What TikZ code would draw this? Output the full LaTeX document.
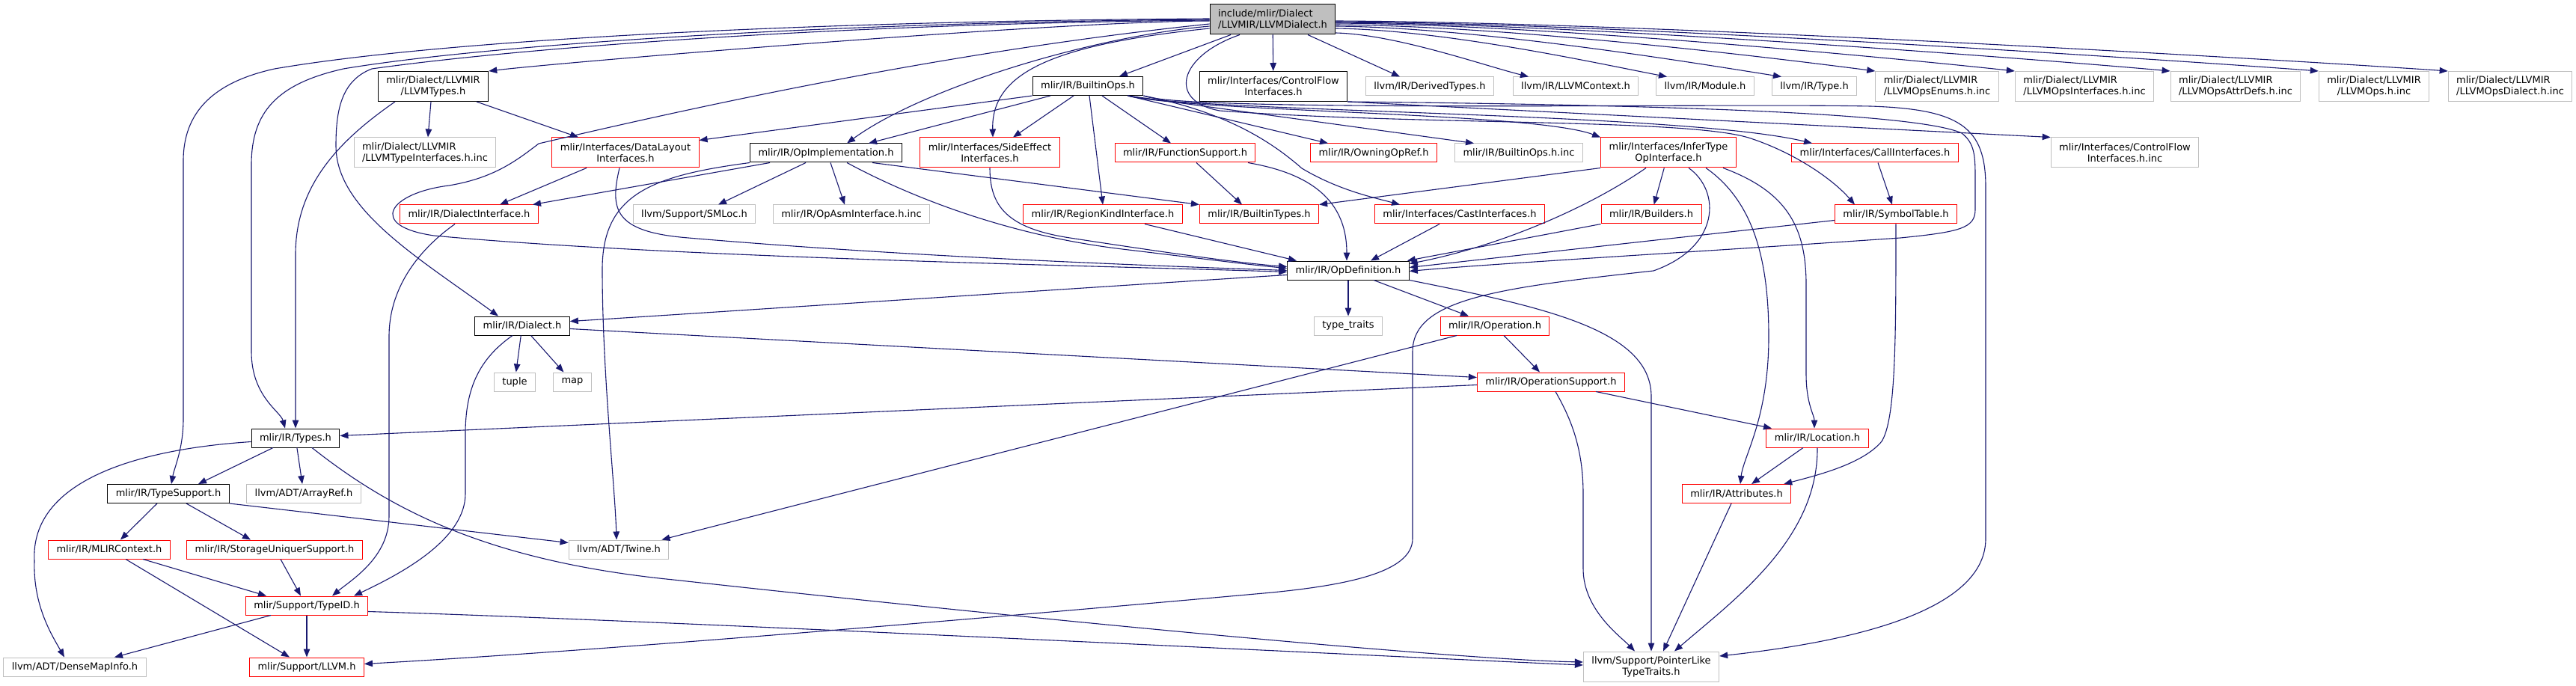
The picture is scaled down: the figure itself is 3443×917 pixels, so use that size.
\documentclass[tikz,border=0pt]{standalone}
\usepackage{fontspec}
\setmainfont{DejaVu Sans}
\usetikzlibrary{arrows.meta}
\definecolor{edgeblue}{RGB}{25,25,112}
\definecolor{gray75}{RGB}{191,191,191}

\begin{document}
\begin{tikzpicture}[x=1pt, y=-1pt, font=\fontsize{13}{15}\selectfont,
  hdr/.style={rectangle, draw, fill=white, line width=1pt,
    inner xsep=11pt, inner ysep=3pt, minimum height=25pt},
  filebox/.style={hdr, draw=black},
  truncbox/.style={hdr, draw=red},
  extbox/.style={hdr, draw=gray75},
  rootbox/.style={hdr, draw=black, fill=gray75},
  twoline/.style={minimum height=40pt},
  dep/.style={draw=edgeblue, line width=1.1pt,
    -{Triangle[length=11pt, width=8.5pt]}}]
  % Canvas
  \fill[white] (0,0) rectangle (3443,917);
  \useasboundingbox (0,0) rectangle (3443,917);

  % Root file
  \node[rootbox, twoline, align=left] (root) at (1701,26) {include/mlir/Dialect\\/LLVMIR/LLVMDialect.h};
  % First row
  \node[filebox, twoline, align=center] (llvmTypes) at (579,115.5) {mlir/Dialect/LLVMIR\\/LLVMTypes.h};
  \node[filebox] (builtinOps) at (1454,115) {mlir/IR/BuiltinOps.h};
  \node[filebox, twoline, align=center] (cfIface) at (1702,115.5) {mlir/Interfaces/ControlFlow\\Interfaces.h};
  \node[extbox] (derivedTypes) at (1911,115.5) {llvm/IR/DerivedTypes.h};
  \node[extbox] (llvmContext) at (2106,115.5) {llvm/IR/LLVMContext.h};
  \node[extbox] (irModule) at (2279,115.5) {llvm/IR/Module.h};
  \node[extbox] (irType) at (2425,115.5) {llvm/IR/Type.h};
  \node[extbox, twoline, align=left] (opsEnums) at (2589,115.5) {mlir/Dialect/LLVMIR\\/LLVMOpsEnums.h.inc};
  \node[extbox, twoline, align=left] (opsIfaces) at (2786,115.5) {mlir/Dialect/LLVMIR\\/LLVMOpsInterfaces.h.inc};
  \node[extbox, twoline, align=left] (opsAttrDefs) at (2988,115.5) {mlir/Dialect/LLVMIR\\/LLVMOpsAttrDefs.h.inc};
  \node[extbox, twoline, align=center] (opsInc) at (3173,115.5) {mlir/Dialect/LLVMIR\\/LLVMOps.h.inc};
  \node[extbox, twoline, align=left] (opsDialect) at (3355,115.5) {mlir/Dialect/LLVMIR\\/LLVMOpsDialect.h.inc};
  % Second row
  \node[extbox, twoline, align=left] (typeIfacesInc) at (568,204) {mlir/Dialect/LLVMIR\\/LLVMTypeInterfaces.h.inc};
  \node[truncbox, twoline, align=center] (dataLayout) at (836,204) {mlir/Interfaces/DataLayout\\Interfaces.h};
  \node[filebox] (opImpl) at (1104,204.5) {mlir/IR/OpImplementation.h};
  \node[truncbox, twoline, align=center] (sideEffect) at (1323,204) {mlir/Interfaces/SideEffect\\Interfaces.h};
  \node[truncbox] (funcSupport) at (1584,204.5) {mlir/IR/FunctionSupport.h};
  \node[truncbox] (owningOpRef) at (1836,204.5) {mlir/IR/OwningOpRef.h};
  \node[extbox] (builtinOpsInc) at (2030,204.5) {mlir/IR/BuiltinOps.h.inc};
  \node[truncbox, twoline, align=center] (inferType) at (2230,204) {mlir/Interfaces/InferType\\OpInterface.h};
  \node[truncbox] (callIface) at (2506,204.5) {mlir/Interfaces/CallInterfaces.h};
  \node[extbox, twoline, align=center] (cfIfaceInc) at (2840,204) {mlir/Interfaces/ControlFlow\\Interfaces.h.inc};
  % Third row
  \node[truncbox] (dialectIface) at (627,286.5) {mlir/IR/DialectInterface.h};
  \node[extbox] (smLoc) at (928,286.5) {llvm/Support/SMLoc.h};
  \node[extbox] (opAsmInc) at (1138,286.5) {mlir/IR/OpAsmInterface.h.inc};
  \node[truncbox] (regionKind) at (1474,286.5) {mlir/IR/RegionKindInterface.h};
  \node[truncbox] (builtinTypes) at (1683,286.5) {mlir/IR/BuiltinTypes.h};
  \node[truncbox] (castIface) at (1951,286.5) {mlir/Interfaces/CastInterfaces.h};
  \node[truncbox] (builders) at (2207,286.5) {mlir/IR/Builders.h};
  \node[truncbox] (symbolTable) at (2534,286.5) {mlir/IR/SymbolTable.h};
  % Lower rows
  \node[filebox] (opDef) at (1802,361.5) {mlir/IR/OpDefinition.h};
  \node[filebox] (dialect) at (698,435.5) {mlir/IR/Dialect.h};
  \node[extbox] (typeTraits) at (1802,435.5) {type\_traits};
  \node[truncbox] (operation) at (1998,435.5) {mlir/IR/Operation.h};
  \node[extbox] (tuple) at (688,510.5) {tuple};
  \node[extbox] (stdMap) at (765,510.5) {map};
  \node[truncbox] (opSupport) at (2073,510.5) {mlir/IR/OperationSupport.h};
  \node[filebox] (types) at (395,585.5) {mlir/IR/Types.h};
  \node[truncbox] (location) at (2429,585.5) {mlir/IR/Location.h};
  \node[filebox] (typeSupport) at (225,660) {mlir/IR/TypeSupport.h};
  \node[extbox] (arrayRef) at (406,660) {llvm/ADT/ArrayRef.h};
  \node[truncbox] (attributes) at (2321,660) {mlir/IR/Attributes.h};
  \node[truncbox] (mlirContext) at (146,734.5) {mlir/IR/MLIRContext.h};
  \node[truncbox] (storageUniquer) at (367,734.5) {mlir/IR/StorageUniquerSupport.h};
  \node[extbox] (twine) at (827,734.5) {llvm/ADT/Twine.h};
  \node[truncbox] (typeId) at (410,809.5) {mlir/Support/TypeID.h};
  \node[extbox] (denseMapInfo) at (100,891.5) {llvm/ADT/DenseMapInfo.h};
  \node[truncbox] (llvmH) at (410,891.5) {mlir/Support/LLVM.h};
  \node[extbox, twoline, align=center] (pointerLike) at (2207,891) {llvm/Support/PointerLike\\TypeTraits.h};

  % Root: first row
  \draw[dep] ([yshift=-2pt]root.west) .. controls +(-200,0) and +(100,-12) .. (llvmTypes.north east);
  \draw[dep] ([xshift=-56pt]root.south) -- ([xshift=42pt]builtinOps.north);
  \draw[dep] (root) -- (cfIface);
  \draw[dep] ([xshift=47pt]root.south) -- ([xshift=-40pt]derivedTypes.north);
  \draw[dep] ([yshift=-18pt]root.east) .. controls +(80,2) and +(-60,-15) .. ([xshift=-63pt]llvmContext.north);
  \draw[dep] ([yshift=-12pt]root.east) .. controls +(150,2) and +(-80,-15) .. ([xshift=-51pt]irModule.north);
  \draw[dep] ([yshift=-9pt]root.east) .. controls +(200,2) and +(-90,-14) .. ([xshift=-44pt]irType.north);
  \draw[dep] ([yshift=-7pt]root.east) .. controls +(250,2) and +(-100,-13) .. (opsEnums.north west);
  \draw[dep] ([yshift=-5pt]root.east) .. controls +(300,2) and +(-110,-12) .. (opsIfaces.north west);
  \draw[dep] ([yshift=-4pt]root.east) .. controls +(350,2) and +(-120,-11) .. (opsAttrDefs.north west);
  \draw[dep] ([yshift=-3pt]root.east) .. controls +(400,2) and +(-130,-10) .. (opsInc.north west);
  \draw[dep] ([yshift=-2pt]root.east) .. controls +(450,2) and +(-140,-10) .. (opsDialect.north west);
  % Root: long routes to the left
  \draw[dep] ([yshift=1pt]root.west) .. controls (1100,28) and (600,52) .. (367,92)
    .. controls (285,110) and (245,150) .. (245,215) -- (245,560)
    .. controls (245,600) and (233,625) .. ([xshift=4pt]typeSupport.north);
  \draw[dep] (root.west) .. controls (1100,30) and (650,60) .. (459,92)
    .. controls (370,112) and (336,150) .. (336,220) -- (336,470)
    .. controls (336,530) and (375,550) .. ([xshift=-14pt]types.north);
  \draw[dep] ([yshift=-1pt]root.west) .. controls (1100,32) and (680,66) .. (497,92)
    .. controls (455,108) and (449,150) .. (449,195)
    .. controls (449,280) and (560,345) .. ([xshift=-32pt]dialect.north);
  \draw[dep] ([yshift=-6pt]root.west) .. controls (1250,70) and (900,150) .. (720,192)
    .. controls (690,215) and (660,238) .. (600,248)
    .. controls (520,258) and (490,302) .. (580,315)
    .. controls (900,345) and (1500,356) .. ([yshift=-2pt]opDef.west);
  \draw[dep] ([yshift=-9pt]root.west) .. controls (1450,50) and (1230,120) .. ([xshift=28pt]opImpl.north);
  \draw[dep] ([yshift=-12pt]root.west) .. controls (1400,60) and (1325,100) .. ([xshift=4pt]sideEffect.north);
  \draw[dep] ([xshift=-44pt]root.south) .. controls (1575,75) and (1560,135) .. (1630,148)
    .. controls (1900,168) and (2260,158) .. (2340,185)
    .. controls (2400,205) and (2450,240) .. ([xshift=-55pt]symbolTable.north);

  % LLVMTypes.h
  \draw[dep] ([xshift=-3pt]llvmTypes.south) -- ([xshift=4pt]typeIfacesInc.north);
  \draw[dep] ([xshift=58pt]llvmTypes.south) -- ([xshift=-63pt]dataLayout.north);
  \draw[dep] ([xshift=-51pt]llvmTypes.south) .. controls (450,190) and (395,250) .. (395,340) -- (types.north);

  % BuiltinOps.h
  \draw[dep] (builtinOps.south west) -- ([yshift=-4pt]dataLayout.north east);
  \draw[dep] ([xshift=-50pt]builtinOps.south) -- ([xshift=57pt]opImpl.north);
  \draw[dep] ([xshift=-19pt]builtinOps.south) -- ([xshift=31pt]sideEffect.north);
  \draw[dep] ([xshift=2pt]builtinOps.south) -- (regionKind.north);
  \draw[dep] ([xshift=19pt]builtinOps.south) -- ([xshift=-19pt]funcSupport.north);
  \draw[dep] ([xshift=-21pt]builtinOps.south east) -- ([xshift=-61pt]owningOpRef.north);
  \draw[dep] ([xshift=-21pt]builtinOps.south east) -- ([xshift=-60pt]builtinOpsInc.north);
  \draw[dep] ([xshift=-21pt]builtinOps.south east) .. controls (1600,150) and (2050,150) .. (inferType.north west);
  \draw[dep] ([xshift=-21pt]builtinOps.south east) .. controls (1600,150) and (2250,150) .. ([xshift=-84pt]callIface.north);
  \draw[dep] (builtinOps.south east) .. controls (1640,150) and (1700,190) .. (1740,225)
    .. controls (1790,255) and (1840,265) .. ([xshift=-80pt]castIface.north);
  \draw[dep] (builtinOps.south east) .. controls (1580,150) and (2300,138) .. (2500,142)
    .. controls (2620,146) and (2654,170) .. (2654,250) -- (2654,720)
    .. controls (2654,810) and (2500,855) .. ([yshift=14pt]pointerLike.east);

  % ControlFlowInterfaces.h
  \draw[dep] (cfIface.south east) .. controls +(100,5) and +(-100,-5) .. (cfIfaceInc.north west);
  \draw[dep] (cfIface.south east) .. controls (2200,140) and (2560,150) .. (2622,178)
    .. controls (2640,192) and (2640,210) .. (2640,240) -- (2640,280)
    .. controls (2640,305) and (2620,310) .. (2540,318)
    .. controls (2250,338) and (2000,352) .. ([yshift=-1pt]opDef.east);

  % Second row
  \draw[dep] ([xshift=-52pt]dataLayout.south) -- ([xshift=41pt]dialectIface.north);
  \draw[dep] ([xshift=-8pt]dataLayout.south) .. controls (815,280) and (820,310) .. (920,318)
    .. controls (1200,342) and (1500,354) .. (opDef.west);
  \draw[dep] ([xshift=-75pt]opImpl.south) -- ([xshift=85pt]dialectIface.north);
  \draw[dep] ([xshift=-27pt]opImpl.south) -- ([xshift=32pt]smLoc.north);
  \draw[dep] ([xshift=6pt]opImpl.south) -- ([xshift=-9pt]opAsmInc.north);
  \draw[dep] (opImpl.south west) .. controls (870,235) and (805,260) .. (805,360)
    .. controls (805,500) and (822,650) .. ([xshift=-3pt]twine.north);
  \draw[dep] ([xshift=62pt]opImpl.south) -- (builtinTypes.north west);
  \draw[dep] ([xshift=28pt]opImpl.south) .. controls (1220,265) and (1350,315) .. (1500,333)
    .. controls (1600,345) and (1680,355) .. ([yshift=3pt]opDef.west);
  \draw[dep] (sideEffect.south) .. controls (1323,275) and (1345,305) .. (1430,318)
    .. controls (1560,338) and (1660,352) .. ([yshift=5pt]opDef.west);
  \draw[dep] ([xshift=15pt]funcSupport.south) -- ([xshift=-23pt]builtinTypes.north);
  \draw[dep] ([xshift=84pt]funcSupport.south) .. controls (1740,230) and (1800,260) .. ([xshift=-2pt]opDef.north);
  \draw[dep] (inferType.south west) -- (builtinTypes.north east);
  \draw[dep] (inferType) -- (builders);
  \draw[dep] ([xshift=-30pt]inferType.south) .. controls (2120,280) and (2000,330) .. ([yshift=9pt]opDef.east);
  \draw[dep] ([xshift=27pt]inferType.south) .. controls (2300,255) and (2300,330) .. (2210,362)
    .. controls (2000,385) and (1888,400) .. (1888,470) -- (1888,720)
    .. controls (1888,765) and (1800,782) .. (1700,792)
    .. controls (1300,828) and (800,870) .. ([yshift=4pt]llvmH.east);
  \draw[dep] ([xshift=50pt]inferType.south) .. controls (2345,270) and (2364,350) .. (2364,450)
    .. controls (2364,560) and (2330,610) .. ([xshift=5pt]attributes.north);
  \draw[dep] ([xshift=73pt]inferType.south) .. controls (2385,255) and (2414,300) .. (2414,380) -- (2414,500)
    .. controls (2414,540) and (2425,555) .. ([xshift=-4pt]location.north);
  \draw[dep] ([xshift=4pt]callIface.south) -- ([xshift=-5pt]symbolTable.north);

  % Third row
  \draw[dep] ([xshift=56pt]regionKind.south) -- ([xshift=-69pt]opDef.north);
  \draw[dep] ([xshift=-27pt]castIface.south) -- ([xshift=30pt]opDef.north);
  \draw[dep] (builders.south west) -- ([xshift=-3pt]opDef.north east);
  \draw[dep] ([yshift=-8pt]symbolTable.west) -- ([yshift=4pt]opDef.east);
  \draw[dep] (symbolTable.south) .. controls (2534,450) and (2534,560) .. (2515,590)
    .. controls (2490,620) and (2430,635) .. ([xshift=-10pt]attributes.north east);
  \draw[dep] ([xshift=-19pt]dialectIface.south) .. controls (565,330) and (520,380) .. (520,450) -- (520,690)
    .. controls (520,745) and (470,775) .. ([xshift=34pt]typeId.north);

  % OpDefinition.h
  \draw[dep] ([yshift=-6pt]opDef.west) .. controls +(-100,6) and +(100,-6) .. ([yshift=6pt]dialect.east);
  \draw[dep] (opDef) -- (typeTraits);
  \draw[dep] ([xshift=34pt]opDef.south) -- ([xshift=-35pt]operation.north);
  \draw[dep] (opDef.south east) .. controls (2060,410) and (2207,440) .. (2207,530) -- (pointerLike.north);

  % Dialect.h
  \draw[dep] (dialect) -- (tuple);
  \draw[dep] (dialect) -- (stdMap);
  \draw[dep] ([xshift=-13pt]dialect.south) .. controls (640,480) and (622,520) .. (622,580) -- (622,660)
    .. controls (622,720) and (540,765) .. ([xshift=63pt]typeId.north);
  \draw[dep] ([yshift=-4pt]dialect.east) .. controls +(120,6.5) and +(-120,-6.5) .. ([yshift=6pt]opSupport.west);

  % Operation.h and OperationSupport.h
  \draw[dep] ([xshift=12pt]operation.south) -- ([xshift=-15pt]opSupport.north);
  \draw[dep] ([xshift=-51pt]operation.south) .. controls +(-100,26) and +(100,-26) .. ([xshift=-10pt]twine.north east);
  \draw[dep] ([yshift=-4pt]opSupport.west) .. controls +(-150,7) and +(150,-7) .. ([yshift=3pt]types.east);
  \draw[dep] ([xshift=6pt]opSupport.south) .. controls (2100,560) and (2116,600) .. (2116,660) -- (2116,760)
    .. controls (2116,815) and (2165,850) .. ([xshift=-22pt]pointerLike.north);
  \draw[dep] ([xshift=60pt]opSupport.south) -- ([xshift=-61pt]location.north);

  % Location.h and Attributes.h
  \draw[dep] ([xshift=-19pt]location.south) -- ([xshift=20pt]attributes.north);
  \draw[dep] (location.south) .. controls (2430,720) and (2320,800) .. ([xshift=31pt]pointerLike.north);
  \draw[dep] ([xshift=-7pt]attributes.south) -- ([xshift=16pt]pointerLike.north);

  % Types.h
  \draw[dep] ([xshift=-30pt]types.south) -- ([xshift=40pt]typeSupport.north);
  \draw[dep] (types) -- (arrayRef);
  \draw[dep] ([yshift=-5pt]types.west) .. controls (190,600) and (40,640) .. (46,750)
    .. controls (44,810) and (70,850) .. ([xshift=-14pt]denseMapInfo.north);
  \draw[dep] ([xshift=22pt]types.south) .. controls (520,680) and (650,750) .. (900,775)
    .. controls (1400,830) and (1950,882) .. ([yshift=6pt]pointerLike.west);

  % TypeSupport.h and its includes
  \draw[dep] ([xshift=-15pt]typeSupport.south) -- ([xshift=15pt]mlirContext.north);
  \draw[dep] ([xshift=24pt]typeSupport.south) -- ([xshift=-32pt]storageUniquer.north);
  \draw[dep] (typeSupport.south east) -- ([yshift=9pt]twine.west);
  \draw[dep] ([xshift=45pt]mlirContext.south) -- ([xshift=-54pt]typeId.north);
  \draw[dep] ([xshift=22pt]mlirContext.south) -- ([xshift=-23pt]llvmH.north);
  \draw[dep] ([xshift=8pt]storageUniquer.south) -- ([xshift=-8pt]typeId.north);

  % TypeID.h
  \draw[dep] ([xshift=-48pt]typeId.south) -- ([xshift=53pt]denseMapInfo.north);
  \draw[dep] (typeId) -- (llvmH);
  \draw[dep] ([yshift=-8pt]typeId.east) .. controls +(400,12) and +(-150,-6) .. ([yshift=2pt]pointerLike.west);
\end{tikzpicture}
\end{document}
